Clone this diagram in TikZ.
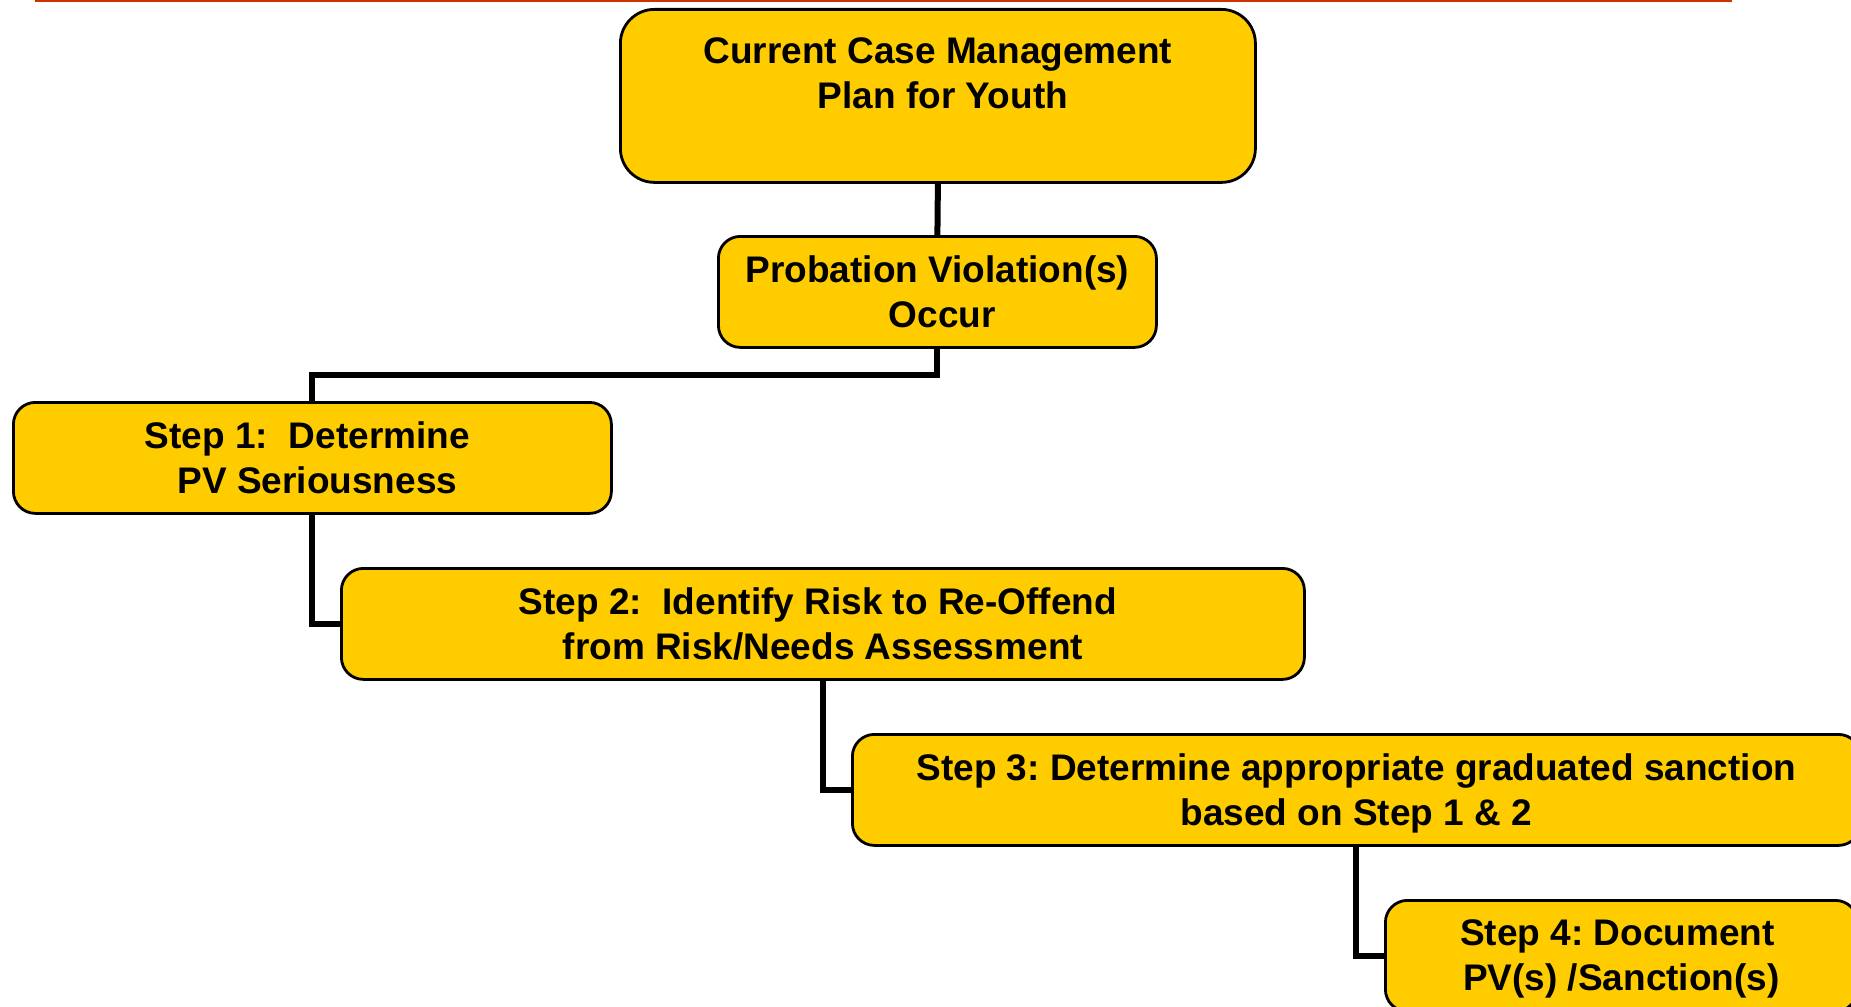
\documentclass[tikz,border=0pt]{standalone}
\usepackage{fontspec}
\setmainfont{Liberation Sans}
\usetikzlibrary{calc}
\definecolor{boxfill}{HTML}{FFCC00}
\definecolor{topline}{HTML}{CC3300}
\frenchspacing
\tikzset{
  stepbox/.style={draw=black, line width=2.8pt, fill=boxfill, rounded corners=22pt,
    anchor=north west, inner sep=0pt, align=center,
    font=\fontsize{37}{45}\selectfont\bfseries},
  steptext/.style={inner sep=0pt, align=center, font=\fontsize{37}{45}\selectfont\bfseries},
  conn/.style={draw=black, line width=6pt}
}
\begin{document}
\begin{tikzpicture}[x=1pt,y=-1pt]
\useasboundingbox (0,0) rectangle (1851,1006);
\draw[topline, line width=2.5pt] (35,1) coordinate (rl) -- (1732,1) coordinate (rr);
\node[stepbox, rounded corners=34pt, minimum width=635pt, minimum height=173pt] (top) at (619,8)
  {Current Case Management\\\hspace*{10pt}Plan for Youth\\\mbox{}};
\node[stepbox, minimum width=438pt, minimum height=111pt] (pv) at (717,235)
  {Probation Violation(s)\\\hspace*{10pt}Occur};
\node[stepbox, minimum width=598pt, minimum height=111pt] (s1) at (12,401)
  {Step 1:\ \ Determine\hspace*{10pt}\\\hspace*{10pt}PV Seriousness};
\node[stepbox, minimum width=963pt, minimum height=111pt] (s2) at (340,567)
  {Step 2:\ \ Identify Risk to Re-Offend\hspace*{10pt}\\from Risk/Needs Assessment};
\node[stepbox, minimum width=1008pt, minimum height=111pt] (s3) at (851,733) {};
\node[steptext] (s3t) at ([yshift=-3.5pt]s3.center)
  {Step 3: Determine appropriate graduated sanction\\based on Step 1 \& 2};
\node[stepbox, minimum width=472pt, minimum height=111pt] (s4) at (1384,899) {};
\node[steptext] (s4t) at ([yshift=-3.5pt]s4.center)
  {Step 4: Document\hspace*{8pt}\\PV(s) /Sanction(s)};
\draw[conn] (top.south) -- (pv.north);
\draw[conn] (pv.south) |- ($(pv.south)!.5!(s1.north)$) -| (s1.north);
\draw[conn] (s1.south) |- (s2.west);
\draw[conn] (s2.south) |- (s3.west);
\draw[conn] (s3.south) |- (s4.west);
\end{tikzpicture}
\end{document}
